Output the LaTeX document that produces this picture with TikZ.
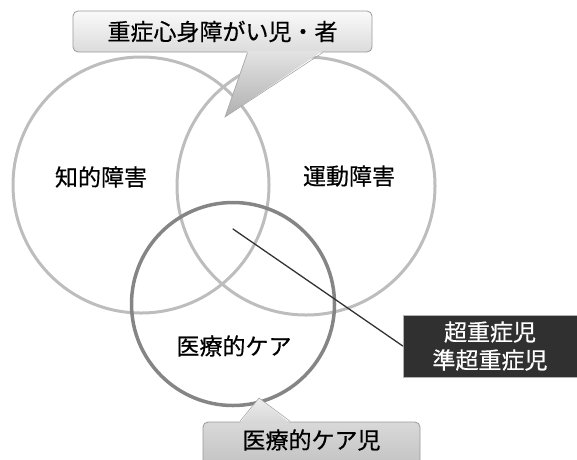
\documentclass[tikz,border=0pt]{standalone}
\usepackage{fontspec}
\setmainfont[FakeBold=0.5]{Noto Sans CJK JP}
\usetikzlibrary{positioning}
\definecolor{ringgray}{gray}{0.74}
\definecolor{caregray}{gray}{0.52}
\definecolor{darkbox}{gray}{0.19}

\begin{document}
\begin{tikzpicture}[x=1pt,y=-1pt,cap=round,
        ring/.style={circle,draw=ringgray,line width=3pt,inner sep=0pt},
        caption/.style={font=\fontsize{23pt}{28pt}\selectfont,inner sep=0pt},
        balloon/.style={rounded corners=5pt,draw=gray!80,line width=0.8pt}]
        \useasboundingbox (0,0) rectangle (577,459);

        % draw the three circles
        \node[ring,minimum size=256pt] (intellect) at (141,185) {};
        \node[ring,minimum size=258pt] (motor) at (306,186) {};
        \node[ring,draw=caregray,line width=3.5pt,minimum size=203pt] (care) at (233,304) {};

        % draw the circle labels
        \node[caption] (intellectlabel) at (101,177) {知的障害};
        \node[caption] (motorlabel) at (349,176) {運動障害};
        \node[caption] (carelabel) at (234,346) {医療的ケア};

        % the dark box and its line
        \coordinate (core) at (233,229);
        \node[caption,fill=darkbox,draw=gray!60,text=white,align=center,
              minimum width=174pt,minimum height=62pt] (severe) at (490,346)
              {超重症児\\準超重症児};
        \draw[black!80,line width=1.3pt] (core) -- (severe.west);

        % the callout on top
        \node[caption,balloon,top color=gray!4,bottom color=gray!28,
              minimum width=299pt,minimum height=41pt] (heading) at (222.5,31.5)
              {重症心身障がい児・者};
        \coordinate (headtip) at (225,117);
        \shade[top color=gray!22,bottom color=gray!62]
              ([xshift=25pt,yshift=1.5pt]heading.south) -- (headtip)
              -- ([xshift=100pt,yshift=1.5pt]heading.south) -- cycle;
        \draw[gray!70,line width=0.6pt]
              ([xshift=25pt,yshift=-0.4pt]heading.south) -- (headtip)
              -- ([xshift=100pt,yshift=-0.4pt]heading.south);

        % the callout at the bottom
        \node[caption,balloon,top color=gray!30,bottom color=gray!48,
              minimum width=217pt,minimum height=46pt,text depth=12pt] (carekids) at (311.5,445)
              {医療的ケア児};
        \coordinate (caretip) at (259,398);
        \shade[top color=gray!14,bottom color=gray!32]
              ([xshift=-71.5pt,yshift=-1.5pt]carekids.north) -- (caretip)
              -- ([xshift=-21.5pt,yshift=-1.5pt]carekids.north) -- cycle;
        \draw[gray!70,line width=0.6pt]
              ([xshift=-71.5pt,yshift=0.4pt]carekids.north) -- (caretip)
              -- ([xshift=-21.5pt,yshift=0.4pt]carekids.north);
\end{tikzpicture}
\end{document}
